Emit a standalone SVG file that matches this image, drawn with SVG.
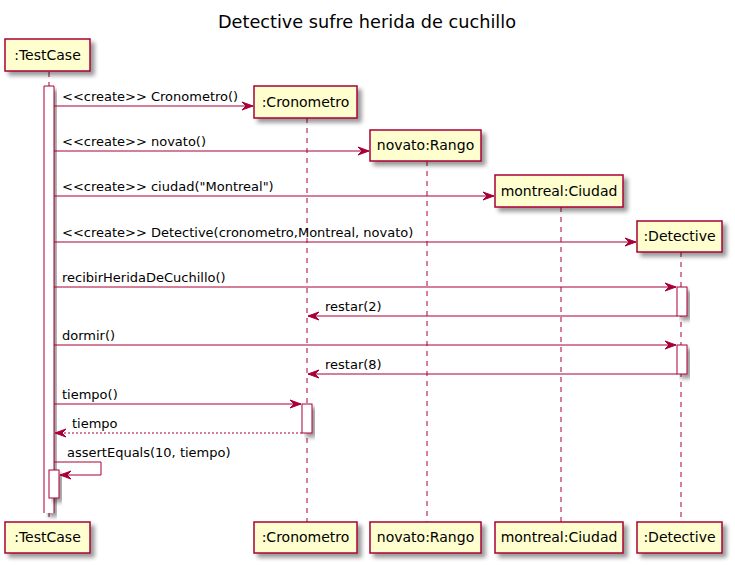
<svg xmlns="http://www.w3.org/2000/svg" width="735" height="565" viewBox="0 0 735 565">
<defs>
<filter id="sh" x="-20%" y="-20%" width="150%" height="160%">
<feGaussianBlur in="SourceAlpha" stdDeviation="2"/>
<feOffset dx="4" dy="4" result="b"/>
<feComponentTransfer><feFuncA type="linear" slope="0.4"/></feComponentTransfer>
<feMerge><feMergeNode/><feMergeNode in="SourceGraphic"/></feMerge>
</filter>
<marker id="ah" viewBox="0 0 12 10" refX="11" refY="5" markerWidth="12" markerHeight="10" markerUnits="userSpaceOnUse" orient="auto">
<polygon points="0,1 11,5 0,9 4,5" fill="#A80036" stroke="#A80036" stroke-width="1"/>
</marker>
</defs>
<style>
.box{fill:#FEFECE;stroke:#A80036;stroke-width:1.5;filter:url(#sh)}
.act{fill:#FFFFFF;stroke:#A80036;stroke-width:1;filter:url(#sh)}
.life{stroke:#A80036;stroke-width:1;stroke-dasharray:5,5;fill:none}
.msg{stroke:#A80036;stroke-width:1;fill:none;marker-end:url(#ah)}
.ret{stroke:#A80036;stroke-width:1;fill:none;stroke-dasharray:2,2;marker-end:url(#ah)}
.pt{font-family:"DejaVu Sans",sans-serif;font-size:14px;fill:#000;text-anchor:middle}
.mt{font-family:"DejaVu Sans",sans-serif;font-size:13px;fill:#000}
.title{font-family:"DejaVu Sans",sans-serif;font-size:17.7px;fill:#000;text-anchor:middle}
</style>
<rect width="735" height="565" fill="#FFFFFF"/>
<text class="title" x="367" y="28">Detective sufre herida de cuchillo</text>

<g id="lifelines">
<line class="life" x1="49" y1="72" x2="49" y2="522"/>
<line class="life" x1="307" y1="118" x2="307" y2="522"/>
<line class="life" x1="427" y1="161" x2="427" y2="522"/>
<line class="life" x1="561" y1="207" x2="561" y2="522"/>
<line class="life" x1="681" y1="252" x2="681" y2="522"/>
</g>

<g id="activations">
<rect class="act" x="44" y="86" width="10" height="427" style="stroke:none"/>
<path d="M44,513 V86 H54 V513" fill="none" stroke="#A80036" stroke-width="1"/>
<rect class="act" x="677" y="287" width="10" height="29"/>
<rect class="act" x="677" y="345" width="10" height="29"/>
<rect class="act" x="302" y="404" width="10" height="29"/>
<rect class="act" x="49" y="470" width="10" height="28"/>
</g>

<g id="node-testcase-top"><rect class="box" x="5" y="39" width="85" height="32"/><text class="pt" x="47.5" y="60">:TestCase</text></g>
<g id="node-cronometro-top"><rect class="box" x="254" y="86" width="103" height="32"/><text class="pt" x="305.5" y="107">:Cronometro</text></g>
<g id="node-novato-top"><rect class="box" x="370" y="130" width="111" height="31"/><text class="pt" x="425.5" y="150">novato:Rango</text></g>
<g id="node-montreal-top"><rect class="box" x="495" y="175" width="128" height="32"/><text class="pt" x="559" y="196">montreal:Ciudad</text></g>
<g id="node-detective-top"><rect class="box" x="637" y="221" width="85" height="31"/><text class="pt" x="679.5" y="241">:Detective</text></g>

<g id="node-testcase-bottom"><rect class="box" x="5" y="522" width="85" height="31"/><text class="pt" x="47.5" y="542">:TestCase</text></g>
<g id="node-cronometro-bottom"><rect class="box" x="254" y="522" width="103" height="31"/><text class="pt" x="305.5" y="542">:Cronometro</text></g>
<g id="node-novato-bottom"><rect class="box" x="370" y="522" width="111" height="31"/><text class="pt" x="425.5" y="542">novato:Rango</text></g>
<g id="node-montreal-bottom"><rect class="box" x="495" y="522" width="128" height="31"/><text class="pt" x="559" y="542">montreal:Ciudad</text></g>
<g id="node-detective-bottom"><rect class="box" x="637" y="522" width="85" height="31"/><text class="pt" x="679.5" y="542">:Detective</text></g>

<g id="connectors">
<line class="msg" x1="54" y1="106" x2="253" y2="106"/>
<text class="mt" x="62" y="101">&lt;&lt;create&gt;&gt; Cronometro()</text>
<line class="msg" x1="54" y1="151" x2="369" y2="151"/>
<text class="mt" x="62" y="146">&lt;&lt;create&gt;&gt; novato()</text>
<line class="msg" x1="54" y1="196" x2="494" y2="196"/>
<text class="mt" x="62" y="191">&lt;&lt;create&gt;&gt; ciudad("Montreal")</text>
<line class="msg" x1="54" y1="242" x2="636" y2="242"/>
<text class="mt" x="62" y="237">&lt;&lt;create&gt;&gt; Detective(cronometro,Montreal, novato)</text>
<line class="msg" x1="54" y1="287" x2="676" y2="287"/>
<text class="mt" x="62" y="282">recibirHeridaDeCuchillo()</text>
<line class="msg" x1="677" y1="316" x2="308" y2="316"/>
<text class="mt" x="325" y="311">restar(2)</text>
<line class="msg" x1="54" y1="345" x2="676" y2="345"/>
<text class="mt" x="62" y="340">dormir()</text>
<line class="msg" x1="677" y1="374" x2="308" y2="374"/>
<text class="mt" x="325" y="369">restar(8)</text>
<line class="msg" x1="54" y1="404" x2="301" y2="404"/>
<text class="mt" x="62" y="399">tiempo()</text>
<line class="ret" x1="302" y1="433" x2="55" y2="433"/>
<text class="mt" x="72" y="428">tiempo</text>
<path class="msg" d="M54,462 H101 V475 H60"/>
<text class="mt" x="67" y="457">assertEquals(10, tiempo)</text>
</g>
</svg>
